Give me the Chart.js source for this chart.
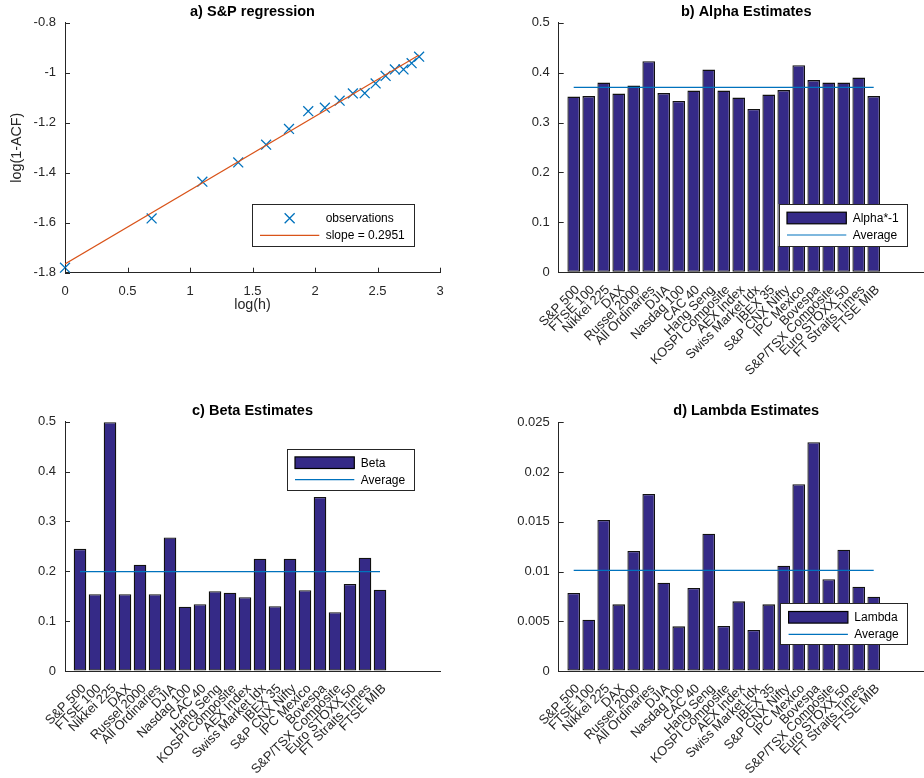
<!DOCTYPE html>
<html>
<head>
<meta charset="utf-8">
<title>Index estimates</title>
<script src="https://cdn.jsdelivr.net/npm/chart.js@4.4.1/dist/chart.umd.min.js"></script>
<style>
  html, body { margin: 0; padding: 0; background: #fff; }
  body { width: 924px; height: 778px; overflow: hidden; position: relative; }
  .panel { position: absolute; }
</style>
</head>
<body>
<div class="panel" style="left:0;top:0;width:462px;height:320px"><canvas id="chart-a"></canvas></div>
<div class="panel" style="left:462px;top:0;width:480px;height:390px"><canvas id="chart-b"></canvas></div>
<div class="panel" style="left:0;top:390px;width:462px;height:388px"><canvas id="chart-c"></canvas></div>
<div class="panel" style="left:462px;top:390px;width:480px;height:388px"><canvas id="chart-d"></canvas></div>
<script>
// Panel a: regression of log(1-ACF) on log(h)
const logH = [0, 0.693, 1.099, 1.386, 1.609, 1.792, 1.946, 2.079, 2.197, 2.303, 2.398, 2.485, 2.565, 2.639, 2.708, 2.773, 2.833];
const logOneMinusAcf = [-1.780, -1.583, -1.436, -1.359, -1.288, -1.225, -1.154, -1.140, -1.112, -1.083, -1.082, -1.043, -1.013, -0.987, -0.987, -0.962, -0.936];
const slope = 0.2951;
const intercept = -1.765;

// Panels b, c, d: per index estimates
const indices = ['S&P 500', 'FTSE 100', 'Nikkei 225', 'DAX', 'Russel 2000', 'All Ordinaries', 'DJIA',
  'Nasdaq 100', 'CAC 40', 'Hang Seng', 'KOSPI Composite', 'AEX Index', 'Swiss Market Idx', 'IBEX 35',
  'S&P CNX Nifty', 'IPC Mexico', 'Bovespa', 'S&P/TSX Composite', 'Euro STOXX 50', 'FT Straits Times', 'FTSE MIB'];
const alphaEst = [0.352, 0.353, 0.380, 0.358, 0.374, 0.423, 0.359, 0.343, 0.364, 0.406, 0.364,
  0.350, 0.327, 0.356, 0.365, 0.415, 0.385, 0.380, 0.380, 0.390, 0.353];
const betaEst = [0.245, 0.154, 0.499, 0.154, 0.213, 0.154, 0.268, 0.129, 0.134, 0.160, 0.157,
  0.148, 0.225, 0.130, 0.225, 0.162, 0.349, 0.118, 0.1745, 0.227, 0.163];
const lambdaEst = [0.00784, 0.00516, 0.01518, 0.0067, 0.01206, 0.0178, 0.00888, 0.00449, 0.00834, 0.0138, 0.00452,
  0.0070, 0.00412, 0.0067, 0.01059, 0.01877, 0.0230, 0.00922, 0.0122, 0.00848, 0.00747];

const axisColor = '#262626';
const barColor = '#352A87';
const blue = '#0072BD';
const orange = '#D95319';
const fontFamily = '"Liberation Sans", Arial, sans-serif';

function mean(arr) {
  return arr.reduce((a, b) => a + b, 0) / arr.length;
}

// matlab prints 1 not 1.0, 0.01 not 0.010
function shortNum(v) {
  return String(parseFloat(Number(v).toFixed(4)));
}

// MATLAB style ticks pointing into the plot
const inwardTicks = {
  id: 'inwardTicks',
  afterDatasetsDraw(chart, args, opts) {
    const ctx = chart.ctx;
    const area = chart.chartArea;
    ctx.save();
    ctx.strokeStyle = axisColor;
    ctx.lineWidth = 1;
    (opts.axes || []).forEach(id => {
      const s = chart.scales[id];
      s.ticks.forEach((t, i) => {
        const p = Math.round(s.getPixelForTick(i)) + 0.5;
        ctx.beginPath();
        if (s.isHorizontal()) {
          ctx.moveTo(p, area.bottom);
          ctx.lineTo(p, area.bottom - 5);
        } else {
          ctx.moveTo(area.left, p);
          ctx.lineTo(area.left + 5, p);
        }
        ctx.stroke();
      });
    });
    ctx.restore();
  }
};

// bold title centered over the axes
const panelTitle = {
  id: 'panelTitle',
  afterDraw(chart, args, opts) {
    const ctx = chart.ctx;
    const area = chart.chartArea;
    ctx.save();
    ctx.font = 'bold 14.5px ' + fontFamily;
    ctx.fillStyle = '#000';
    ctx.textAlign = 'center';
    ctx.textBaseline = 'middle';
    ctx.fillText(opts.text, (area.left + area.right) / 2, area.top - opts.offset);
    ctx.restore();
  }
};

// boxed legend placed inside the axes
const boxLegend = {
  id: 'boxLegend',
  afterDraw(chart, args, opts) {
    const ctx = chart.ctx;
    const [bx, by, bw, bh] = opts.box;
    ctx.save();
    ctx.fillStyle = '#fff';
    ctx.fillRect(bx, by, bw, bh);
    ctx.strokeStyle = axisColor;
    ctx.lineWidth = 1;
    ctx.strokeRect(Math.round(bx) + 0.5, Math.round(by) + 0.5, Math.round(bw), Math.round(bh));
    ctx.font = '12px ' + fontFamily;
    ctx.textBaseline = 'middle';
    ctx.textAlign = 'left';
    opts.items.forEach((item, i) => {
      const cy = by + 14 + i * 17;
      const x0 = bx + 8.3, x1 = bx + 67.6;
      if (item.kind === 'bar') {
        ctx.fillStyle = item.color;
        ctx.fillRect(x0, cy - 5.8, x1 - x0, 11.6);
        ctx.strokeStyle = '#000';
        ctx.lineWidth = 1.2;
        ctx.strokeRect(x0, cy - 5.8, x1 - x0, 11.6);
      } else if (item.kind === 'line') {
        ctx.strokeStyle = item.color;
        ctx.lineWidth = 1.2;
        ctx.beginPath();
        ctx.moveTo(x0, cy);
        ctx.lineTo(x1, cy);
        ctx.stroke();
      } else {
        const cx = (x0 + x1) / 2, r = 5;
        ctx.strokeStyle = item.color;
        ctx.lineWidth = 1.3;
        ctx.beginPath();
        ctx.moveTo(cx - r, cy - r); ctx.lineTo(cx + r, cy + r);
        ctx.moveTo(cx - r, cy + r); ctx.lineTo(cx + r, cy - r);
        ctx.stroke();
      }
      ctx.fillStyle = '#000';
      ctx.fillText(item.label, bx + 74, cy + 0.5);
    });
    ctx.restore();
  }
};

Chart.register(inwardTicks, panelTitle, boxLegend);
Chart.defaults.font.family = fontFamily;
Chart.defaults.color = axisColor;
Chart.defaults.animation = false;
Chart.defaults.responsive = false;

// fix the size of an axis box so the plot area lands where we want it
function fixWidth(w) {
  return s => { s.width = w; s.paddingTop = 0; s.paddingBottom = 0; };
}
function fixHeight(h) {
  return s => { s.height = h; s.paddingLeft = 0; s.paddingRight = 0; };
}

function axisGrid() {
  return { display: true, drawOnChartArea: false, drawTicks: false };
}
function axisBorder() {
  return { display: true, color: axisColor, width: 1 };
}

// Panel a
function makeRegression() {
  const canvas = document.getElementById('chart-a');
  canvas.width = 462; canvas.height = 320;
  const points = logH.map((x, i) => ({ x: x, y: logOneMinusAcf[i] }));
  const xFirst = logH[0], xLast = logH[logH.length - 1];
  const fit = [{ x: xFirst, y: intercept + slope * xFirst }, { x: xLast, y: intercept + slope * xLast }];

  new Chart(canvas, {
    type: 'scatter',
    data: {
      datasets: [
        {
          label: 'observations', data: points, order: 1, clip: false,
          pointStyle: 'crossRot', pointRadius: 7, borderColor: blue, backgroundColor: blue, pointBorderWidth: 1.3
        },
        {
          type: 'line', label: 'slope = 0.2951', data: fit, order: 0,
          borderColor: orange, borderWidth: 1.2, pointRadius: 0, showLine: true
        }
      ]
    },
    options: {
      layout: { padding: { top: 22.7, right: 22, left: 0, bottom: 0 } },
      scales: {
        x: {
          type: 'linear', min: 0, max: 3,
          ticks: { stepSize: 0.5, padding: 11, font: { size: 13 }, color: axisColor, callback: shortNum },
          grid: axisGrid(), border: axisBorder(),
          title: { display: true, text: 'log(h)', font: { size: 14.3 }, color: axisColor, padding: { top: 0, bottom: 6 } },
          afterFit: fixHeight(320 - 272.7)
        },
        y: {
          min: -1.8, max: -0.8,
          ticks: { stepSize: 0.2, padding: 9, font: { size: 13 }, color: axisColor, callback: shortNum },
          grid: axisGrid(), border: axisBorder(),
          title: { display: true, text: 'log(1-ACF)', font: { size: 14.3 }, color: axisColor, padding: { top: 8, bottom: 0 } },
          afterFit: fixWidth(65)
        }
      },
      plugins: {
        legend: { display: false },
        tooltip: { enabled: false },
        inwardTicks: { axes: ['x', 'y'] },
        panelTitle: { text: 'a) S&P regression', offset: 10.5 },
        boxLegend: {
          box: [251.7, 204.3, 161.6, 41.7],
          items: [
            { kind: 'cross', color: blue, label: 'observations' },
            { kind: 'line', color: orange, label: 'slope = 0.2951' }
          ]
        }
      }
    }
  });
}

// Panels b, c, d share one bar layout
function makeBars(id, size, area, values, yMax, yStep, seriesName, title, legendBox) {
  const canvas = document.getElementById(id);
  canvas.width = size[0]; canvas.height = size[1];
  const bars = indices.map((name, i) => ({ x: i + 1, y: values[i] }));
  const avg = mean(values);
  const avgLine = [{ x: 1, y: avg }, { x: indices.length, y: avg }];

  new Chart(canvas, {
    type: 'bar',
    data: {
      datasets: [
        {
          label: seriesName, data: bars, order: 1,
          backgroundColor: barColor, borderColor: '#111', borderWidth: 1.3, borderSkipped: false,
          barPercentage: 0.84, categoryPercentage: 1
        },
        {
          type: 'line', label: 'Average', data: avgLine, order: 0,
          borderColor: blue, borderWidth: 1.2, pointRadius: 0
        }
      ]
    },
    options: {
      layout: { padding: { top: area.top, right: size[0] - area.right, left: 0, bottom: 0 } },
      scales: {
        x: {
          type: 'linear', min: 0, max: 25, offset: false,
          ticks: {
            stepSize: 1, autoSkip: false, maxRotation: 45, minRotation: 45, padding: 10, labelOffset: 4,
            font: { size: 13 }, color: axisColor,
            callback: v => indices[v - 1] || ''
          },
          grid: axisGrid(), border: axisBorder(),
          afterFit: fixHeight(size[1] - area.bottom)
        },
        y: {
          min: 0, max: yMax,
          ticks: { stepSize: yStep, padding: 9, font: { size: 13 }, color: axisColor, callback: shortNum },
          grid: axisGrid(), border: axisBorder(),
          afterFit: fixWidth(area.left)
        }
      },
      plugins: {
        legend: { display: false },
        tooltip: { enabled: false },
        inwardTicks: { axes: ['y'] },
        panelTitle: { text: title, offset: 11 },
        boxLegend: {
          box: legendBox,
          items: [
            { kind: 'bar', color: barColor, label: seriesName },
            { kind: 'line', color: blue, label: 'Average' }
          ]
        }
      }
    }
  });
}

makeRegression();
makeBars('chart-b', [480, 390], { left: 96.7, right: 471.7, top: 22.7, bottom: 272.3 },
  alphaEst, 0.5, 0.1, 'Alpha*-1', 'b) Alpha Estimates', [316.7, 204, 128.3, 42]);
makeBars('chart-c', [462, 388], { left: 65, right: 440, top: 31.7, bottom: 281 },
  betaEst, 0.5, 0.1, 'Beta', 'c) Beta Estimates', [286.7, 58.7, 126.7, 40.7]);
makeBars('chart-d', [480, 388], { left: 96.7, right: 471.7, top: 32.3, bottom: 281 },
  lambdaEst, 0.025, 0.005, 'Lambda', 'd) Lambda Estimates', [318.3, 213.3, 126.7, 41]);
</script>
</body>
</html>
